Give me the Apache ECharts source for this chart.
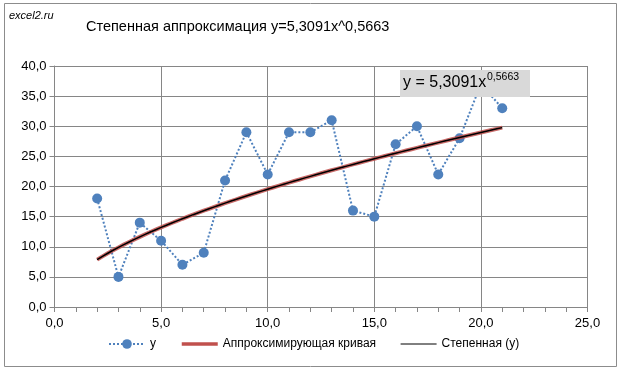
<!DOCTYPE html>
<html>
<head>
<meta charset="utf-8">
<script src="https://cdn.jsdelivr.net/npm/echarts@6/dist/echarts.min.js"></script>
<style>
  html, body { margin: 0; padding: 0; background: #fff; }
  #chart { width: 617px; height: 367px; }
</style>
</head>
<body>
<div id="chart"></div>
<script>
// исходные данные
const xs = [2, 3, 4, 5, 6, 7, 8, 9, 10, 11, 12, 13, 14, 15, 16, 17, 18, 19, 20, 21]
const ys = [18, 5, 14, 11, 7, 9, 21, 29, 22, 29, 29, 31, 16, 15, 27, 30, 22, 28, 37, 33]
// коэффициенты степенной аппроксимации y = a*x^b
const coefA = 5.3091
const coefB = 0.5663

let fmt = v => v.toFixed(1).replace('.', ',')

let pts = xs.map((x, i) => [x, ys[i]])
let fit = []
for (let x = xs[0]; x <= xs[xs.length - 1] + 1e-9; x += 0.25) {
  fit.push([x, coefA * Math.pow(x, coefB)])
}

let ch = echarts.init(document.getElementById('chart'))
let font = 'Liberation Sans'
let gray = '#868686'
let option = {
  animation: false,
  textStyle: { fontFamily: font },
  graphic: [
    {
      type: 'rect', left: 2, top: 1, z: 0,
      shape: { width: 612, height: 363 },
      style: { fill: 'none', stroke: '#8c8c8c', lineWidth: 1 }
    },
    {
      type: 'text', left: 9, top: 10,
      style: { text: 'excel2.ru', font: 'italic 11px ' + font, fill: '#000' }
    },
    {
      type: 'text', left: 86, top: 19,
      style: { text: 'Степенная аппроксимация y=5,3091x^0,5663', font: '14.5px ' + font, fill: '#000' }
    },
    // подпись уравнения линии тренда
    {
      type: 'group', left: 400, top: 70, z: 100,
      children: [
        { type: 'rect', shape: { x: 0, y: 0, width: 130, height: 27 }, style: { fill: '#d9d9d9' }, z: 100 },
        { type: 'text', x: 3, y: 5, style: { text: 'y = 5,3091x', font: '16px ' + font, fill: '#000' }, z: 101 },
        { type: 'text', x: 87, y: 2, style: { text: '0,5663', font: '10.5px ' + font, fill: '#000' }, z: 101 }
      ]
    }
  ],
  legend: {
    bottom: 12,
    left: 103,
    itemGap: 24,
    itemWidth: 36,
    itemHeight: 12,
    textStyle: { fontSize: 12, color: '#000', fontFamily: font },
    data: [
      'y',
      { name: 'Аппроксимирующая кривая', itemStyle: { opacity: 0 }, lineStyle: { width: 3.5, opacity: 1 } },
      { name: 'Степенная (y)', itemStyle: { opacity: 0 }, lineStyle: { width: 1 } }
    ]
  },
  grid: { left: 54.5, right: 29.5, top: 66, bottom: 60 },
  xAxis: {
    type: 'value', min: 0, max: 25, interval: 5,
    axisLine: { show: true, lineStyle: { color: gray } },
    axisTick: { show: true, inside: false, length: 5, lineStyle: { color: gray } },
    minorTick: { show: true, splitNumber: 5, length: 5, lineStyle: { color: gray, width: 1 } },
    splitLine: { show: true, lineStyle: { color: gray } },
    axisLabel: { formatter: v => fmt(v), color: '#000', fontSize: 13, margin: 10 }
  },
  yAxis: {
    type: 'value', min: 0, max: 40, interval: 5,
    axisLine: { show: true, lineStyle: { color: gray } },
    axisTick: { show: true, length: 5, lineStyle: { color: gray } },
    splitLine: { show: true, lineStyle: { color: gray } },
    axisLabel: { formatter: v => fmt(v), color: '#000', fontSize: 13, margin: 8 }
  },
  series: [
    {
      name: 'y', type: 'line', data: pts,
      symbol: 'circle', symbolSize: 10,
      itemStyle: { color: '#4f81bd' },
      lineStyle: { color: '#4f81bd', width: 2, type: 'dotted' },
      z: 3
    },
    {
      name: 'Аппроксимирующая кривая', type: 'line', data: fit,
      symbol: 'none',
      itemStyle: { color: '#c0504d' },
      lineStyle: { color: '#c0504d', width: 4, opacity: 0.85 },
      z: 4
    },
    {
      name: 'Степенная (y)', type: 'line', data: fit,
      symbol: 'none',
      itemStyle: { color: '#000' },
      lineStyle: { color: '#000', width: 1.5 },
      z: 5
    }
  ]
}
ch.setOption(option)
</script>
</body>
</html>
